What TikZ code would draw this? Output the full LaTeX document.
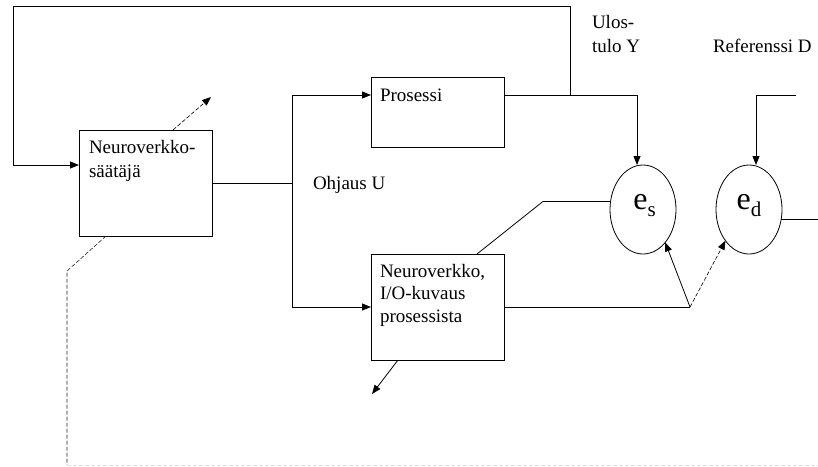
\documentclass[tikz,border=0pt]{standalone}
\usepackage{fontspec}
\setmainfont{Liberation Serif}
\usetikzlibrary{arrows.meta,shapes.geometric}

\begin{document}
\begin{tikzpicture}[x=1pt,y=-1pt,
  line width=0.8pt,
  every node/.style={inner sep=0pt, outer sep=0pt},
  blockbox/.style={draw, rectangle, minimum width=133pt},
  sumnode/.style={draw, ellipse, minimum width=66pt, minimum height=89pt},
  lbl/.style={anchor=base west, font=\fontsize{19}{23}\selectfont},
  sumlbl/.style={anchor=base, font=\fontsize{32}{34}\selectfont},
  tip/.style={-{Triangle[length=9pt,width=7pt]}},
  dsh/.style={dash pattern=on 4pt off 2pt, line width=0.6pt},
]
\useasboundingbox (0,0) rectangle (818,466);

% blocks
\node[blockbox, minimum height=106pt] (ctrl) at (145.5,183) {};
\node[blockbox, minimum height=70pt]  (proc) at (437.5,112) {};
\node[blockbox, minimum height=106pt] (nn)   at (437.5,307) {};
\node[sumnode] (es) at (643,209.5) {};
\node[sumnode] (ed) at (749,209.5) {};

% block texts
\node[lbl] (ctrlA) at (89,153.5) {Neuroverkko-};
\node[lbl] (ctrlB) at (89,177) {säätäjä};
\node[lbl] (procT) at (380,101) {Prosessi};
\node[lbl] (uT)    at (313,189) {Ohjaus U};
\node[lbl] (nnA)   at (380,277) {Neuroverkko,};
\node[lbl] (nnB)   at (380,299.5) {I/O-kuvaus};
\node[lbl] (nnC)   at (380,322) {prosessista};
\node[lbl] (yA)    at (592,28.5)  {Ulos-};
\node[lbl] (yB)    at (592,52)  {tulo Y};
\node[lbl] (dT)    at (713,52)  {Referenssi D};
\node[sumlbl] (esT) at (644.5,209) {e\raisebox{-7pt}{\fontsize{21}{22}\selectfont s}};
\node[sumlbl] (edT) at (749,209) {e\raisebox{-7pt}{\fontsize{21}{22}\selectfont d}};

% branch points
\coordinate (jY) at (570,95);
\coordinate (jP) at (292,95);
\coordinate (jN) at (292,307);
\coordinate (yT) at (637,95);
\coordinate (dR) at (796,95);
\coordinate (dC) at (756,95);
\coordinate (kA) at (543,201);
\coordinate (jE) at (690,307);
\coordinate (eOut) at (818,0);
\coordinate (dUp) at (211,97);
\coordinate (nDown) at (372,394);
\coordinate (bendL) at (67,271);
\coordinate (bendB) at (67,465);
\coordinate (endB) at (818,465);

% feedback loop from the process output to the controller
\draw[tip] (jY) |- (13,6) |- ([yshift=18pt]ctrl.west);

% control signal U
\draw (ctrl.east) -- (ctrl.east -| jP);
\draw (jP) -- (jN);
\draw[tip] (jP) -- (jP -| proc.west);
\draw[tip] (jN) -- (nn.west);

% process output Y to e_s
\draw[tip] (proc.east |- yT) -- (yT) -- (yT |- es.north);

% reference D to e_d
\draw[tip] (dR) -- (dC) -- (dC |- ed.north);
\draw (ed.-17) -- (ed.-17 -| eOut);

% model output
\draw (es.166) -- (es.166 -| kA) -- ([xshift=39.5pt]nn.north);
\draw (nn.east) -- (jE);
\draw[tip] (jE) -- (es.-56);
\draw[tip,dsh] (jE) -- (ed.-127);

% free-ended arrows
\draw[tip,dsh] ([xshift=27.5pt]ctrl.north) -- (dUp);
\draw[tip] ([xshift=-39.5pt]nn.south) -- (nDown);

% dashed training path
\draw[dsh, black!85] ([xshift=-39.5pt]ctrl.south) -- (bendL) -- (bendB);
\draw[dsh, black!12] (bendB) -- (endB);
\end{tikzpicture}
\end{document}
